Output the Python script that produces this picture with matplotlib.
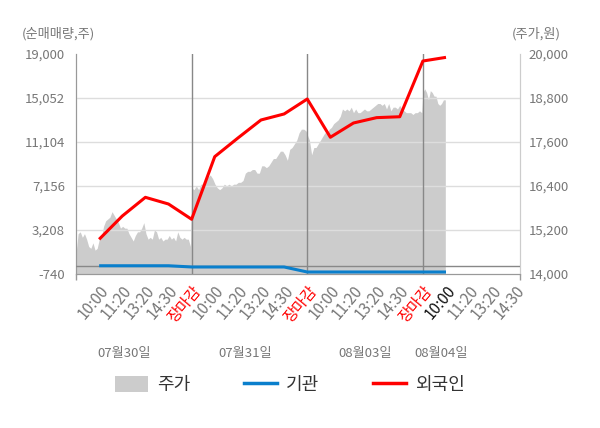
import numpy as np
import matplotlib
matplotlib.use("Agg")
import matplotlib.pyplot as plt
from matplotlib.lines import Line2D
from matplotlib.patches import Patch
from matplotlib.ticker import FuncFormatter
import matplotlib.transforms as mtransforms

plt.rcParams['font.family'] = ['Noto Sans CJK KR', 'DejaVu Sans']

# --- data ---
day_labels = ['07월30일', '07월31일', '08월03일', '08월04일']
day_label_pos = [2.1, 7.3, 12.5, 15.8]
times = ['10:00', '11:20', '13:20', '14:30']
close_label = '장마감'

# intraday price (원), one list per day
price_0730 = [14550, 15100, 15150, 15000, 15100, 14950, 14750, 14700, 14850, 14650,
              14700, 14950, 15000, 15300, 15450, 15500, 15550, 15700, 15600, 15500,
              15400, 15250, 15300, 15250, 15250, 15100, 15000, 14900, 15050, 15150,
              15150, 15250, 15400, 15100, 14950, 15000, 14950, 15200, 15150, 14950,
              15000, 14900, 14950, 14950, 15050, 14950, 15000, 14900, 15150, 15000,
              14950, 15000, 14950, 14950, 14750]
price_0731 = [16350, 16300, 16400, 16300, 16450, 16450, 16500, 16650, 16700, 16600,
              16450, 16350, 16300, 16350, 16450, 16400, 16450, 16400, 16450, 16450,
              16500, 16500, 16550, 16750, 16800, 16800, 16850, 16850, 16750, 16750,
              16950, 16950, 16900, 16950, 17050, 17150, 17150, 17250, 17350, 17350,
              17250, 17100, 17400, 17450, 17550, 17650, 17850, 17950, 17950, 17900]
price_0803 = [17800, 17650, 17250, 17450, 17450, 17550, 17650, 17750, 17850, 17850,
              17950, 18000, 18100, 18150, 18200, 18300, 18500, 18450, 18500, 18450,
              18550, 18400, 18500, 18400, 18400, 18450, 18500, 18450, 18450, 18500,
              18550, 18600, 18650, 18650, 18600, 18650, 18500, 18650, 18450, 18550,
              18550, 18500, 18600, 18500, 18450, 18400, 18400, 18400, 18350, 18400,
              18400, 18450, 18400]
price_0804 = [18950, 19050, 18950, 18750, 19000, 18950, 18850, 18850, 18650, 18600,
              18650, 18750, 18750]
prices = [price_0730, price_0731, price_0803, price_0804]

# net buying (주) at each time label
foreign = [2370, 4460, 6140, 5540, 4170,
           9790, 11460, 13080, 13620, 14960,
           11530, 12810, 13290, 13370, 18370,
           18700]
institution = [0, 0, 0, 0, -110,
               -110, -110, -110, -110, -560,
               -560, -560, -560, -560, -560,
               -560]

vol_ticks = [-740, 3208, 7156, 11104, 15052, 19000]
price_ticks = [14000, 15200, 16400, 17600, 18800, 20000]

# --- layout ---
W, H = 600, 428
fig = plt.figure(figsize=(W / 100, H / 100), dpi=100)
left, right, top, bottom = 76, 520, 54, 274
ax = fig.add_axes([left / W, 1 - bottom / H, (right - left) / W, (bottom - top) / H])
ax2 = ax.twinx()

ax.set_zorder(ax2.get_zorder() + 1)
ax.patch.set_visible(False)
ax2.set_facecolor('#f4f4f4')

slot = 5
xmax = 19.2

# price area on right axis
xs, ys = [], []
for i, p in enumerate(prices):
    span = slot * 0.99 if i < 3 else 0.97
    xs.append(i * slot + np.linspace(0, span, len(p)))
    ys.append(np.array(p))
xs = np.concatenate(xs)
ys = np.concatenate(ys)
ax2.fill_between(xs, ys, price_ticks[0], color='#cccccc', lw=0, zorder=1)
ax2.set_ylim(price_ticks[0], price_ticks[-1])
ax2.set_yticks(price_ticks)
ax2.yaxis.set_major_formatter(FuncFormatter(lambda v, _: f'{int(v):,}'))

# net buying lines on left axis
xp = np.arange(1, len(foreign) + 1)
ax.plot(xp, institution, color='#0a7fcc', lw=2.2, solid_capstyle='butt', zorder=4)
ax.plot(xp, foreign, color='#ff0000', lw=2.2, solid_capstyle='butt', zorder=5)
ax.set_ylim(vol_ticks[0], vol_ticks[-1])
ax.set_yticks(vol_ticks)
ax.yaxis.set_major_formatter(FuncFormatter(lambda v, _: f'{int(v):,}'))
ax.set_xlim(0, xmax)

# grid, zero line, day separators
for v in vol_ticks[1:-1]:
    ax.axhline(v, color='#dddddd', lw=1, zorder=2)
ax.axhline(0, color='#888888', lw=1, zorder=3)
for d in range(1, 4):
    ax.axvline(d * slot, color='#888888', lw=1, zorder=3)

# x tick labels
labels = (times + [close_label]) * 3 + times
colors = []
for i, lab in enumerate(labels):
    if lab == close_label:
        colors.append('#ff0000')
    elif i == 15:
        colors.append('#111111')
    else:
        colors.append('#777777')
ax.set_xticks(np.arange(1, len(labels) + 1))
ax.set_xticklabels(labels, rotation=50, ha='right', rotation_mode='anchor', fontsize=11)
for t, c in zip(ax.get_xticklabels(), colors):
    t.set_color(c)
ax.tick_params(axis='x', length=0, pad=6)
ax.set_xticks([0, 5, 10, 15, xmax], minor=True)
ax.tick_params(axis='x', which='minor', length=4, color='#999999', width=1)

ax.tick_params(axis='y', length=0, pad=8, labelsize=9.5, labelcolor='#777777')
ax2.tick_params(axis='y', length=0, pad=6, labelsize=9.5, labelcolor='#777777')

for a in (ax, ax2):
    a.spines['top'].set_visible(False)
    a.spines['left'].set_color('#999999')
    a.spines['right'].set_color('#cccccc')
    a.spines['bottom'].set_color('#999999')

# date labels under the ticks
trans = mtransforms.blended_transform_factory(ax.transData, ax.transAxes)
for pos, lab in zip(day_label_pos, day_labels):
    ax.text(pos, -0.36, lab, transform=trans, ha='center', va='center',
            fontsize=9.5, color='#777777')

# axis titles
fig.text(22 / W, 1 - 34 / H, '(순매매량,주)', ha='left', va='center', fontsize=9.5, color='#777777')
fig.text(561 / W, 1 - 34 / H, '(주가,원)', ha='right', va='center', fontsize=9.5, color='#777777')

# legend
handles = [Patch(facecolor='#cccccc', edgecolor='none'),
           Line2D([], [], color='#0a7fcc', lw=2.5),
           Line2D([], [], color='#ff0000', lw=2.5)]
fig.legend(handles, ['주가', '기관', '외국인'], loc='center', bbox_to_anchor=(0.483, 1 - 385 / H),
           ncol=3, frameon=False, fontsize=13, handlelength=1.8, handleheight=1.0,
           handletextpad=0.5, columnspacing=3.0, labelcolor='#333333')

fig.savefig('out.png', dpi=100, facecolor='white')
